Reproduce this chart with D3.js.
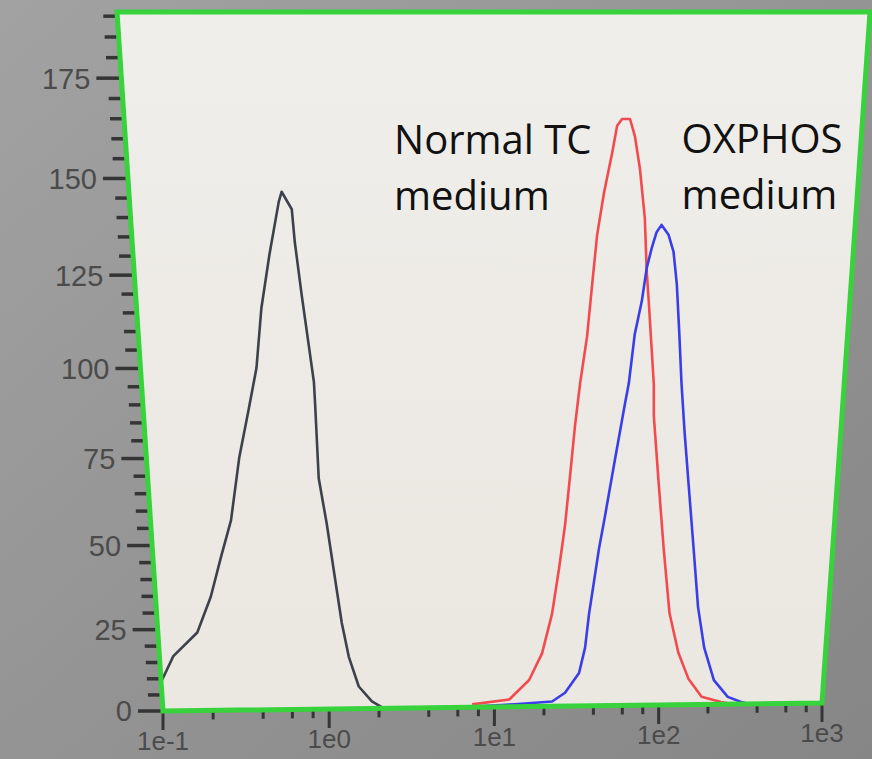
<!DOCTYPE html>
<html>
<head>
    <meta charset="utf-8">
    <title>Histogram overlay</title>
    <script src="https://cdnjs.cloudflare.com/ajax/libs/d3/7.8.5/d3.min.js"></script>
    <style>
        body, html {
            margin: 0;
            padding: 0;
            background: #8f8f8f;
        }
        svg { display: block; }
        .ylab { font-family: "Liberation Sans", Arial, sans-serif; font-size: 29px; fill: #4b4b4b; }
        .xlab { font-family: "Liberation Sans", Arial, sans-serif; font-size: 26px; fill: #4b4b4b; }
        .note { font-family: "Open Sans", "Noto Sans", sans-serif; font-size: 40px; fill: #111; }
    </style>
</head>
<body>
<div id="chart"></div>
<script>
    // axis values
    var xTicks = [0.1, 1, 10, 100, 1000];
    var xTickLabels = ['1e-1', '1e0', '1e1', '1e2', '1e3'];
    var xMinorMult = [2, 4, 6, 8];
    var yTicks = [0, 25, 50, 75, 100, 125, 150, 175];
    var yMinorStep = 5;
    var yMax = 191;

    // histograms: [fluorescence, count]
    var controlData = [
        [0.100, 9], [0.121, 16.9], [0.171, 24], [0.211, 34.7], [0.249, 46.4],
        [0.292, 57.1], [0.339, 75], [0.393, 88], [0.448, 99.9], [0.493, 116],
        [0.562, 130.2], [0.649, 143.9], [0.676, 146.5], [0.762, 142], [0.780, 133.5],
        [0.832, 119.5], [0.938, 96], [0.944, 90], [0.959, 69], [1.047, 55.9],
        [1.143, 40], [1.233, 26.4], [1.340, 16.1], [1.521, 6.9], [1.816, 2.2], [2.138, 0]
    ];
    var normalData = [
        [7.33, 0.9], [12.3, 2.3], [16.2, 8.3], [19.3, 16.5], [22.0, 28.5],
        [24.0, 42.1], [25.8, 54.9], [27.3, 69.2], [28.8, 83.2], [30.5, 95.1],
        [33.0, 107.8], [34.8, 121.9], [36.6, 135], [39.5, 146], [43.3, 156.2],
        [45.7, 163], [48.5, 164.7], [53.6, 164.7], [57.3, 160.4], [61.8, 152.1],
        [67.0, 139.3], [70.1, 125.3], [72.8, 117.4], [77.3, 104], [80.5, 94.9],
        [81.7, 85.9], [89.7, 67.1], [99.1, 47.8], [111, 28.3], [128, 16.3],
        [150, 8], [182, 2.4], [240, 0.7], [282, 0]
    ];
    var oxphosData = [
        [8.0, 0.3], [13.3, 0.8], [22.4, 1.5], [26.8, 4.2], [32.4, 10.3],
        [35.0, 18.1], [36.6, 28.4], [38.8, 38.1], [41.1, 47.8], [44.2, 57.6],
        [49.5, 73.6], [55.5, 89.5], [57.9, 95], [61.5, 108.6], [66.5, 117.4],
        [70.0, 126.3], [74.1, 131.6], [78.3, 135.7], [83.2, 137.6], [91.4, 135],
        [98.2, 130.5], [104, 121.9], [110, 108.6], [116, 95], [124, 81.2],
        [134, 67], [149, 47.8], [164, 30.1], [183, 17.7], [214, 7.6],
        [263, 2.3], [316, 0.7], [355, 0]
    ];
    var series = [
        {data: controlData, color: '#3d414c'},
        {data: normalData, color: '#f24a4e'},
        {data: oxphosData, color: '#3a3ee6'}
    ];
    var notes = [
        {lines: ['Normal TC', 'medium'], at: [2.8, 156]},
        {lines: ['OXPHOS', 'medium'], at: [104, 156]}
    ];

    var W = 872, H = 759;

    // photo of a screen: plot area is a keystoned quad, so map unit square -> quad
    function makeProjector(p0, p1, p2, p3) {
        var dx1 = p1[0] - p2[0], dx2 = p3[0] - p2[0], dx3 = p0[0] - p1[0] + p2[0] - p3[0];
        var dy1 = p1[1] - p2[1], dy2 = p3[1] - p2[1], dy3 = p0[1] - p1[1] + p2[1] - p3[1];
        var den = dx1 * dy2 - dx2 * dy1;
        var g = (dx3 * dy2 - dx2 * dy3) / den, h = (dx1 * dy3 - dx3 * dy1) / den;
        var a = p1[0] - p0[0] + g * p1[0], b = p3[0] - p0[0] + h * p3[0], c = p0[0];
        var d = p1[1] - p0[1] + g * p1[1], e = p3[1] - p0[1] + h * p3[1], f = p0[1];
        return function (u, v) {
            var w = g * u + h * v + 1;
            return [(a * u + b * v + c) / w, (d * u + e * v + f) / w];
        };
    }
    var proj = makeProjector([163, 711], [822, 703], [870, 12], [117, 12]);

    var x = d3.scaleLog().domain([0.1, 1000]).range([0, 1]);
    var y = d3.scaleLinear().domain([0, yMax]).range([0, 1]);
    function P(xv, yv) { return proj(x(xv), y(yv)); }

    var svg = d3.select('#chart').append('svg')
        .attr('width', W).attr('height', H);

    var defs = svg.append('defs');
    var bg = defs.append('linearGradient').attr('id', 'bg')
        .attr('x1', 0).attr('y1', 0).attr('x2', 1).attr('y2', 1);
    bg.append('stop').attr('offset', 0).attr('stop-color', '#a2a2a2');
    bg.append('stop').attr('offset', 1).attr('stop-color', '#868686');
    var pg = defs.append('linearGradient').attr('id', 'plotbg')
        .attr('x1', 0).attr('y1', 0).attr('x2', 0).attr('y2', 1);
    pg.append('stop').attr('offset', 0).attr('stop-color', '#efeeea');
    pg.append('stop').attr('offset', 1).attr('stop-color', '#ebe7e1');

    svg.append('rect').attr('width', W).attr('height', H).attr('fill', 'url(#bg)');

    var corners = [P(0.1, 0), P(1000, 0), P(1000, yMax), P(0.1, yMax)];
    svg.append('path')
        .attr('d', 'M' + corners.join('L') + 'Z')
        .attr('fill', 'url(#plotbg)');

    // y ticks (outside, left)
    var tickCol = '#353535';
    d3.range(0, yMax, yMinorStep).forEach(function (v) {
        var p = P(0.1, v);
        var major = v % 25 === 0;
        svg.append('line')
            .attr('x1', p[0] - (major ? 25 : 14)).attr('x2', p[0])
            .attr('y1', p[1]).attr('y2', p[1])
            .attr('stroke', tickCol).attr('stroke-width', 3.5);
    });
    yTicks.forEach(function (v) {
        var p = P(0.1, v);
        svg.append('text').attr('class', 'ylab')
            .attr('x', p[0] - 31).attr('y', p[1])
            .attr('dy', '0.36em')
            .attr('text-anchor', 'end')
            .text(v);
    });

    // x ticks (outside, below)
    xTicks.forEach(function (t, i) {
        var p = P(t, 0);
        svg.append('line')
            .attr('x1', p[0]).attr('x2', p[0])
            .attr('y1', p[1]).attr('y2', p[1] + 19)
            .attr('stroke', tickCol).attr('stroke-width', 3);
        svg.append('text').attr('class', 'xlab')
            .attr('x', p[0]).attr('y', p[1] + 39)
            .attr('text-anchor', 'middle')
            .text(xTickLabels[i]);
        if (i < xTicks.length - 1) {
            xMinorMult.forEach(function (m) {
                var q = P(t * m, 0);
                svg.append('line')
                    .attr('x1', q[0]).attr('x2', q[0])
                    .attr('y1', q[1]).attr('y2', q[1] + 9)
                    .attr('stroke', tickCol).attr('stroke-width', 3);
            });
        }
    });

    // histograms
    var line = d3.line();
    series.forEach(function (s) {
        svg.append('path')
            .datum(s.data.map(function (d) { return P(d[0], d[1]); }))
            .attr('d', line)
            .attr('fill', 'none')
            .attr('stroke', s.color)
            .attr('stroke-width', 2.6)
            .attr('stroke-linejoin', 'round');
    });

    // green frame
    svg.append('path')
        .attr('d', 'M' + corners.join('L') + 'Z')
        .attr('fill', 'none')
        .attr('stroke', '#37d23c')
        .attr('stroke-width', 5);

    // annotations
    notes.forEach(function (n) {
        var p = P(n.at[0], n.at[1]);
        var t = svg.append('text').attr('class', 'note');
        n.lines.forEach(function (l, i) {
            t.append('tspan').attr('x', p[0]).attr('y', p[1] + i * 56).text(l);
        });
    });
</script>
</body>
</html>
